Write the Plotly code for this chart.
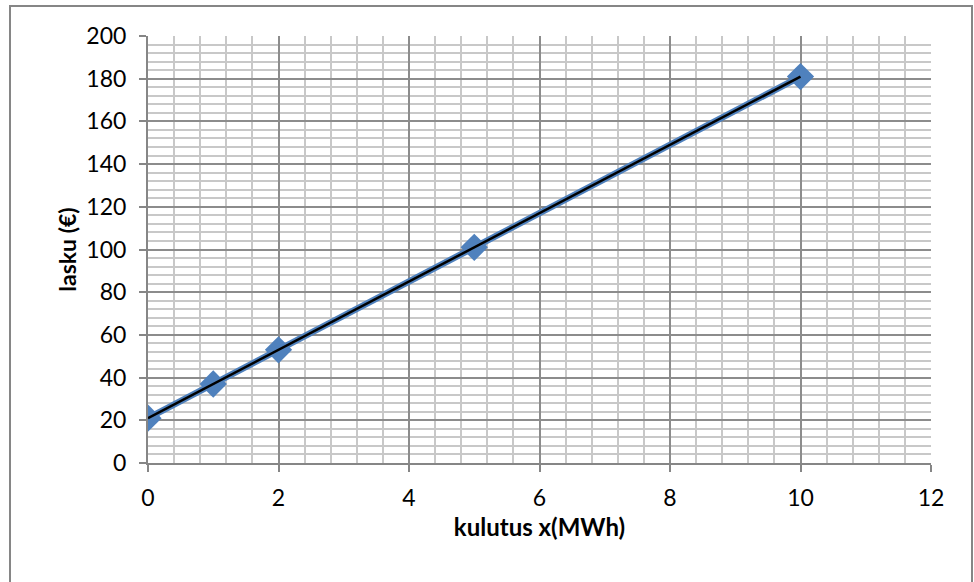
import numpy as np
import plotly.graph_objects as go

# Consumption (MWh) and bill (€)
kulutus = [0, 1, 2, 5, 10]
lasku = [21, 37, 53, 101, 181]

x_ticks = [0, 2, 4, 6, 8, 10, 12]
y_ticks = [0, 20, 40, 60, 80, 100, 120, 140, 160, 180, 200]

W, H = 974, 582
L, R, T, B = 148, 43, 36, 119

# linear trend line fitted through the data
k, c = np.polyfit(kulutus, lasku, 1)
trend_x = [min(kulutus), max(kulutus)]
trend_y = [k * v + c for v in trend_x]

fig = go.Figure()
fig.add_trace(go.Scatter(
    x=kulutus, y=lasku, mode="lines+markers",
    line=dict(color="#4F81BD", width=6.5),
    marker=dict(symbol="diamond", size=21, color="#4F81BD",
                line=dict(width=0)),
    showlegend=False,
))
fig.add_trace(go.Scatter(
    x=trend_x, y=trend_y, mode="lines",
    line=dict(color="#000000", width=2.5),
    showlegend=False,
))

font_family = "Lato, 'Open Sans', Arial, sans-serif"

axis_common = dict(
    showline=True, linecolor="#868686", linewidth=2,
    ticks="outside", ticklen=7, tickwidth=2, tickcolor="#868686",
    showgrid=True, gridcolor="#8C8C8C", gridwidth=2,
    zeroline=False,
    tickfont=dict(size=23, color="#000000", family=font_family),
)

fig.update_xaxes(
    range=[0, 12], tickvals=x_ticks, ticktext=[str(v) for v in x_ticks],
    minor=dict(dtick=0.4, showgrid=True, gridcolor="#C8C8C8", gridwidth=2, ticks=""),
    title=dict(text="<b>kulutus x(MWh)</b>", standoff=10,
               font=dict(size=24, color="#000000", family=font_family)),
    ticklabelstandoff=6,
    **axis_common,
)
fig.update_yaxes(
    range=[0, 200], tickvals=y_ticks, ticktext=[str(v) for v in y_ticks],
    minor=dict(dtick=4, showgrid=True, gridcolor="#C8C8C8", gridwidth=2, ticks=""),
    title=dict(text="<b>lasku (€)</b>", standoff=3,
               font=dict(size=23, color="#000000", family=font_family)),
    ticklabelstandoff=8,
    **axis_common,
)

pw, ph = W - L - R, H - T - B
fig.add_shape(
    type="rect", xref="paper", yref="paper",
    x0=(10 - L) / pw, x1=(972 - L) / pw,
    y0=-(H + 20 - T - ph) / ph, y1=(H - B - 6) / ph,
    line=dict(color="#868686", width=2), fillcolor="rgba(0,0,0,0)",
    layer="below",
)

fig.update_layout(
    width=W, height=H, autosize=False,
    margin=dict(l=L, r=R, t=T, b=B),
    paper_bgcolor="#FFFFFF", plot_bgcolor="#FFFFFF",
    font=dict(family=font_family),
)

fig.write_html("out.html")
